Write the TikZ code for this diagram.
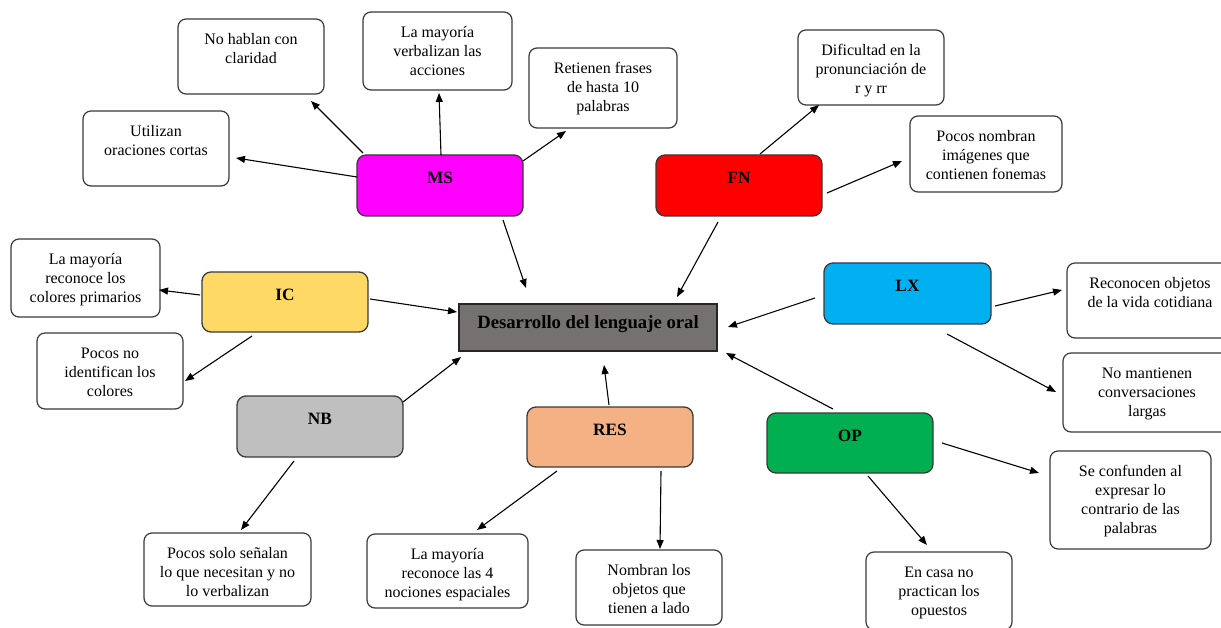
\documentclass[tikz,border=0pt]{standalone}
\usepackage{fontspec}
\setmainfont{Liberation Serif}
\usetikzlibrary{arrows.meta,calc}
\definecolor{msc}{HTML}{FF00FF}
\definecolor{fnc}{HTML}{FF0000}
\definecolor{icc}{HTML}{FFD966}
\definecolor{lxc}{HTML}{00B0F0}
\definecolor{nbc}{HTML}{BFBFBF}
\definecolor{resc}{HTML}{F4B183}
\definecolor{opc}{HTML}{00B050}
\definecolor{cenc}{HTML}{767171}
\definecolor{edge}{HTML}{3A3A3A}
\tikzset{
  leafbox/.style={draw=edge, line width=1.2pt, rounded corners=8pt, fill=white, inner sep=0pt},
  catbox/.style={draw=edge, line width=1.3pt, rounded corners=9pt, inner sep=0pt},
  bodytext/.style={inner sep=0pt, font=\fontsize{16}{19}\selectfont},
  cattext/.style={inner sep=0pt, font=\fontsize{17.3}{20}\selectfont\bfseries},
  arr/.style={-{Triangle[length=9pt,width=7pt]}, line width=1.1pt, black}
}
\newcommand\leafnode[6]{%
  \node[leafbox, minimum width={(#4)-(#2)}, minimum height={(#5)-(#3)}] (#1) at ({((#2)+(#4))/2},{((#3)+(#5))/2}) {};
  \node[bodytext, anchor=base] (#1-t) at ([yshift=-26.5pt]#1.north) {\parbox[t]{220pt}{\centering #6}};
}
\newcommand\catnode[7]{%
  \node[catbox, fill=#6, minimum width={(#4)-(#2)}, minimum height={(#5)-(#3)}] (#1) at ({((#2)+(#4))/2},{((#3)+(#5))/2}) {};
  \node[cattext, anchor=base] (#1-t) at ([yshift=-29.5pt]#1.north) {#7};
}
\newcommand\conn[6]{\draw[arr] ($(#1)+(#2,#3)$) -- ($(#4)+(#5,#6)$);}
\begin{document}
\begin{tikzpicture}[x=1pt,y=-1pt]
\useasboundingbox[fill=white] (0,0) rectangle (1221,628);
% central
\node[draw=black!85, line width=1.3pt, fill=cenc, minimum width=258pt, minimum height=47pt, inner sep=0pt] (cen) at (588,327.5) {};
\node[inner sep=0pt, anchor=base, font=\fontsize{18.7}{22}\selectfont\bfseries] (cen-t) at ([yshift=-25pt]cen.north) {Desarrollo del lenguaje oral};
% category boxes
\catnode{ms}{357}{155}{523}{216}{msc}{MS}
\catnode{fn}{656}{155}{822}{216}{fnc}{FN}
\catnode{ic}{202}{272}{368}{332}{icc}{IC}
\catnode{lx}{824}{263}{991}{324}{lxc}{LX}
\catnode{nb}{237}{396}{403}{457}{nbc}{NB}
\catnode{res}{527}{407}{693}{467}{resc}{RES}
\catnode{op}{767}{413}{933}{473}{opc}{OP}
% leaves
\leafnode{nohablan}{178}{19}{324}{94}{No hablan con\\claridad}
\leafnode{utilizan}{83}{111}{229}{186}{Utilizan\\oraciones cortas}
\leafnode{verbal}{363}{12}{512}{90}{La mayoría\\verbalizan las\\acciones}
\leafnode{retienen}{529}{48}{677}{128}{Retienen frases\\de hasta 10\\palabras}
\leafnode{dificultad}{798}{30}{944}{105}{Dificultad en la\\pronunciación de\\r y rr}
\leafnode{pocosnomb}{910}{116}{1062}{192}{Pocos nombran\\imágenes que\\contienen fonemas}
\leafnode{colprim}{11}{239}{160}{317}{La mayoría\\reconoce los\\colores primarios}
\leafnode{pocosno}{37}{333}{183}{409}{Pocos no\\identifican los\\colores}
\leafnode{reconocen}{1067}{263}{1233}{338}{Reconocen objetos\\de la vida cotidiana}
\leafnode{nomant}{1063}{353}{1231}{432}{No mantienen\\conversaciones\\largas}
\leafnode{seconf}{1050}{451}{1211}{549}{Se confunden al\\expresar lo\\contrario de las\\palabras}
\leafnode{encasa}{866}{552}{1012}{630}{En casa no\\practican los\\opuestos}
\leafnode{pocossolo}{144}{533}{311}{606}{Pocos solo señalan\\lo que necesitan y no\\lo verbalizan}
\leafnode{nociones}{367}{534}{528}{608}{La mayoría\\reconoce las 4\\nociones espaciales}
\leafnode{nombran}{576}{550}{722}{625}{Nombran los\\objetos que\\tienen a lado}
% connectors
\conn{ms}{-77}{-32.5}{nohablan}{60}{44.5}
\conn{ms}{-83}{-8.5}{utilizan}{80}{9.5}
\conn{ms}{1}{-30.5}{verbal}{1.5}{42}
\conn{ms}{83}{-24.5}{retienen}{-37}{43}
\conn{ms}{63}{34.5}{cen}{-62}{-39.5}
\conn{fn}{-21}{36.5}{cen}{89}{-30.5}
\conn{fn}{21}{-31.5}{dificultad}{-52}{37.5}
\conn{fn}{88}{7.5}{pocosnomb}{-84}{7}
\conn{ic}{-85}{-7}{colprim}{73.5}{12}
\conn{ic}{85}{-3}{cen}{-131}{-15.5}
\conn{ic}{-33}{34}{pocosno}{75}{10}
\conn{nb}{83}{-24.5}{cen}{-127}{29.5}
\conn{nb}{-26}{34.5}{pocossolo}{13.5}{-39.5}
\conn{res}{-1}{-32}{cen}{16}{37.5}
\conn{res}{-53}{34}{nociones}{29.5}{-41}
\conn{res}{51}{34}{nombran}{11}{-38.5}
\conn{lx}{-92.5}{4.5}{cen}{140}{-0.5}
\conn{lx}{87.5}{12.5}{reconocen}{-88}{-10.5}
\conn{lx}{39.5}{40.5}{nomant}{-91}{-0.5}
\conn{op}{-17}{-34}{cen}{138}{25.5}
\conn{op}{92}{0}{seconf}{-91.5}{-27}
\conn{op}{18}{33}{encasa}{-12}{-46}
\end{tikzpicture}
\end{document}
